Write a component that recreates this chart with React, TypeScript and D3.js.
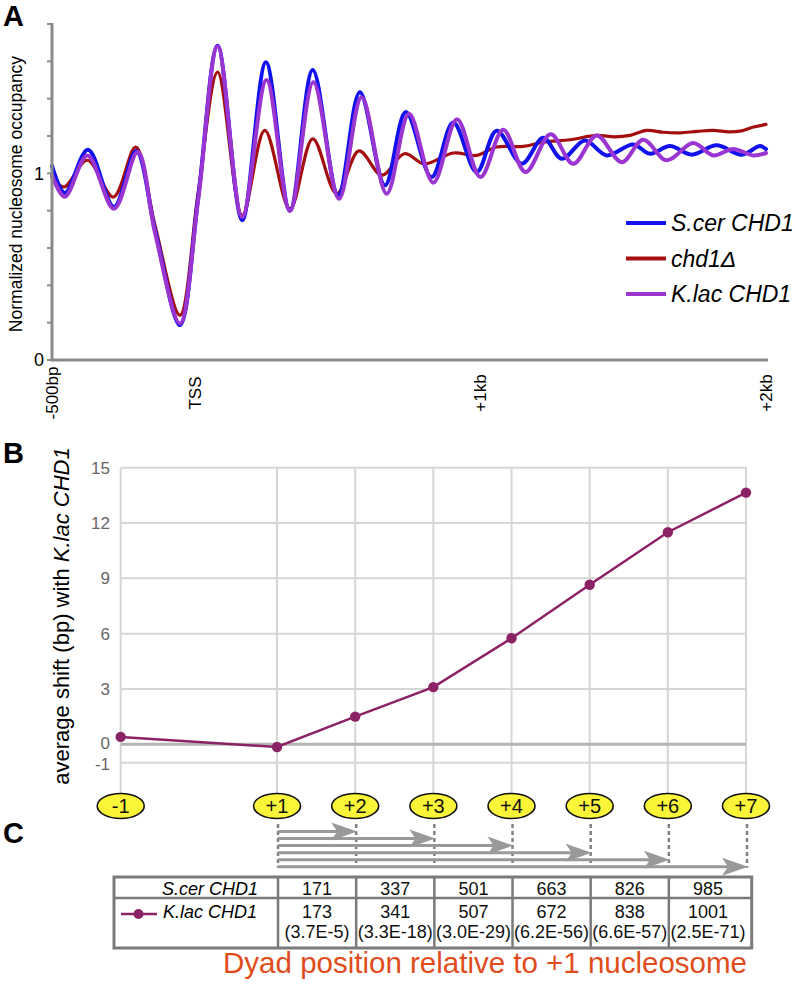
import React from 'react';
import * as d3 from 'd3';

// ---------- Panel A data (bp relative to TSS, normalized occupancy) ----------
const scerCHD1: [number, number][] = [
  [-500, 1.04], [-455, 0.895], [-374, 1.127], [-283, 0.82], [-205, 1.12], [-139, 0.695],
  [-52, 0.187], [12, 0.873], [80, 1.684], [166, 0.749], [249, 1.595], [333, 0.8],
  [413, 1.554], [502, 0.882], [578, 1.435], [666, 0.936], [739, 1.328], [829, 0.98],
  [905, 1.272], [987, 1.007], [1057, 1.228], [1145, 1.052], [1220, 1.19], [1285, 1.078],
  [1366, 1.176], [1442, 1.096], [1535, 1.155], [1594, 1.105], [1664, 1.146], [1740, 1.1],
  [1827, 1.15], [1915, 1.1], [1979, 1.146], [2000, 1.13],
];
const chd1Delta: [number, number][] = [
  [-500, 0.98], [-458, 0.927], [-376, 1.07], [-285, 0.873], [-207, 1.14], [-139, 0.72],
  [-52, 0.24], [12, 0.9], [80, 1.542], [166, 0.775], [245, 1.23], [333, 0.81],
  [413, 1.185], [497, 0.891], [575, 1.12], [655, 0.99], [734, 1.105], [804, 1.051],
  [905, 1.109], [987, 1.096], [1057, 1.141], [1150, 1.144], [1220, 1.167], [1314, 1.18],
  [1407, 1.203], [1470, 1.195], [1524, 1.203], [1582, 1.23], [1640, 1.22], [1699, 1.217],
  [1760, 1.225], [1815, 1.23], [1870, 1.222], [1909, 1.226], [1956, 1.248], [2000, 1.262],
];
const klacCHD1: [number, number][] = [
  [-500, 0.99], [-455, 0.875], [-376, 1.096], [-283, 0.81], [-200, 1.114], [-139, 0.68],
  [-52, 0.196], [12, 0.86], [80, 1.68], [166, 0.766], [251, 1.5], [333, 0.8],
  [415, 1.488], [505, 0.864], [584, 1.408], [672, 0.891], [750, 1.319], [835, 0.95],
  [918, 1.29], [1000, 0.98], [1080, 1.233], [1158, 1.007], [1246, 1.209], [1325, 1.051],
  [1407, 1.203], [1495, 1.06], [1570, 1.18], [1652, 1.07], [1745, 1.162], [1815, 1.096],
  [1885, 1.131], [1955, 1.096], [2000, 1.109],
];
const seriesNames = ['S.cer CHD1', 'chd1\u0394', 'K.lac CHD1'];
const seriesColors = ['#1212ee', '#a50e0e', '#9b35d2'];
const xTickBpA = [-500, 0, 1000, 2000];
const xTickTextA = ['-500bp', 'TSS', '+1kb', '+2kb'];
const yTickValsA = [0, 0.2, 0.4, 0.6, 0.8, 1, 1.2, 1.4, 1.6, 1.8];
const yTickLabeledA = [0, 1];

// ---------- Panel B data ----------
const nucPositions = [-1, 1, 2, 3, 4, 5, 6, 7];
const nucLabels = ['-1', '+1', '+2', '+3', '+4', '+5', '+6', '+7'];
const avgShift = [0.4, -0.15, 1.5, 3.1, 5.75, 8.65, 11.5, 13.65];
const yTicksB = [15, 12, 9, 6, 3, 0, -1];

// ---------- Panel C data ----------
const arrowTargets = [2, 3, 4, 5, 6, 7];
const scerDyad = ['171', '337', '501', '663', '826', '985'];
const klacDyad = ['173', '341', '507', '672', '838', '1001'];
const pValues = ['(3.7E-5)', '(3.3E-18)', '(3.0E-29)', '(6.2E-56)', '(6.6E-57)', '(2.5E-71)'];

const FONT = "'Liberation Sans', Arial, Helvetica, sans-serif";

export default function App() {
  // Panel A scales
  const xA = d3.scaleLinear().domain([-500, 2000]).range([52, 766]);
  const yA = d3.scaleLinear().domain([0, 1.8]).range([360, 24]);
  const lineA = d3
    .line<[number, number]>()
    .x((d) => xA(d[0]))
    .y((d) => yA(d[1]))
    .curve(d3.curveCatmullRom.alpha(0.5));
  const seriesData = [scerCHD1, chd1Delta, klacCHD1];
  const drawOrder = [1, 0, 2];
  const widths = [4, 3.2, 4];

  // Panel B scales
  const xB = d3.scaleLinear().domain([-1, 7]).range([120.7, 746]);
  const yB = d3.scaleLinear().domain([-1, 15]).range([762.7, 467.7]);
  const lineB = d3
    .line<number>()
    .x((_, i) => xB(nucPositions[i]))
    .y((d) => yB(d));

  const ellY = 806;
  const arrowY0 = 831.5;
  const arrowStep = 7.05;
  const tableTop = 877;
  const tableMid = 898;
  const tableBot = 948;
  const tableLeft = 114;
  const purpleB = '#8c2266';

  return (
    <svg
      width={796}
      height={984}
      style={{ position: 'absolute', left: 0, top: 0, background: '#fff' }}
      fontFamily={FONT}
    >
      <rect x={0} y={0} width={796} height={984} fill="#fff" />
      {/* ================= Panel A ================= */}
      <text x={3} y={26} fontSize={29} fontWeight="bold">A</text>
      {drawOrder.map((i) => (
        <path
          key={seriesNames[i]}
          d={lineA(seriesData[i]) || ''}
          fill="none"
          stroke={seriesColors[i]}
          strokeWidth={widths[i]}
          strokeLinejoin="round"
          strokeLinecap="round"
        />
      ))}
      <line x1={xA(-500)} x2={xA(-500)} y1={yA(1.8) - 1} y2={yA(0)} stroke="#8a8a8a" strokeWidth={3} />
      <line x1={xA(-500) - 1.5} x2={768} y1={yA(0)} y2={yA(0)} stroke="#8a8a8a" strokeWidth={3} />
      {yTickValsA.map((v) => (
        <line key={v} x1={xA(-500) - 5} x2={xA(-500)} y1={yA(v)} y2={yA(v)} stroke="#8a8a8a" strokeWidth={2} />
      ))}
      {yTickLabeledA.map((v) => (
        <text key={v} x={44} y={yA(v)} dy="0.36em" textAnchor="end" fontSize={18}>
          {v}
        </text>
      ))}
      {xTickBpA.map((v, i) => (
        <text
          key={v}
          transform={`translate(${xA(v) + 6},${393}) rotate(-90)`}
          textAnchor="middle"
          fontSize={17}
        >
          {xTickTextA[i]}
        </text>
      ))}
      <text transform={`translate(22,${194}) rotate(-90)`} textAnchor="middle" fontSize={17.5}>
        Normalized nucleosome occupancy
      </text>
      {seriesNames.map((n, i) => (
        <g key={n}>
          <line x1={626} x2={666} y1={223 + i * 35.5} y2={223 + i * 35.5} stroke={seriesColors[i]} strokeWidth={4} />
          <text x={671} y={223 + i * 35.5 + 8} fontSize={23} fontStyle="italic">
            {n}
          </text>
        </g>
      ))}

      {/* ================= Panel B ================= */}
      <text x={3} y={463} fontSize={29} fontWeight="bold">B</text>
      {nucPositions.map((p) => (
        <line key={p} x1={xB(p)} x2={xB(p)} y1={yB(15)} y2={ellY - 12} stroke="#d6d6d6" strokeWidth={2} />
      ))}
      {yTicksB.map((v) => (
        <line
          key={v}
          x1={xB(-1)}
          x2={xB(7)}
          y1={yB(v)}
          y2={yB(v)}
          stroke={v === 0 ? '#b5b5b5' : '#d6d6d6'}
          strokeWidth={v === 0 ? 3 : 2}
        />
      ))}
      {yTicksB.map((v) => (
        <text
          key={v}
          x={110}
          y={yB(v) + (v === 0 ? -1.5 : v === -1 ? 1.5 : 0)}
          dy="0.36em"
          textAnchor="end"
          fontSize={17}
          fill="#666"
        >
          {v}
        </text>
      ))}
      <text transform={`translate(69,${616}) rotate(-90)`} textAnchor="middle" fontSize={22}>
        average shift (bp) with <tspan fontStyle="italic">K.lac CHD1</tspan>
      </text>
      <path d={lineB(avgShift) || ''} fill="none" stroke={purpleB} strokeWidth={2.5} />
      {avgShift.map((v, i) => (
        <circle key={i} cx={xB(nucPositions[i])} cy={yB(v)} r={5.2} fill={purpleB} />
      ))}
      {nucPositions.map((p, i) => (
        <g key={p}>
          <ellipse cx={xB(p)} cy={ellY} rx={23.5} ry={12.5} fill="#fbf53a" stroke="#111" strokeWidth={1.6} />
          <text x={xB(p)} y={ellY} dy="0.36em" textAnchor="middle" fontSize={20} fill="#111">
            {nucLabels[i]}
          </text>
        </g>
      ))}

      {/* ================= Panel C ================= */}
      <text x={3} y={843} fontSize={29} fontWeight="bold">C</text>
      {[1, ...arrowTargets].map((p) => (
        <line
          key={p}
          x1={xB(p) + 1}
          x2={xB(p) + 1}
          y1={ellY + 18}
          y2={arrowY0 + arrowStep * 5 + 1}
          stroke="#808080"
          strokeWidth={2.5}
          strokeDasharray="4,3"
        />
      ))}
      {arrowTargets.map((t, i) => {
        const y = arrowY0 + i * arrowStep;
        const tip = xB(t) + 2;
        return (
          <g key={t}>
            <line x1={xB(1) + 1} x2={tip - 10} y1={y} y2={y} stroke="#999" strokeWidth={3} />
            <path
              d={`M${tip},${y} L${tip - 26},${y - 9} L${tip - 20},${y} L${tip - 26},${y + 9} Z`}
              fill="#999"
            />
          </g>
        );
      })}
      <g stroke="#7a7a7a" fill="none">
        <rect x={tableLeft} y={tableTop} width={751.7 - tableLeft} height={tableBot - tableTop} strokeWidth={3} />
        <line x1={tableLeft} x2={751.7} y1={tableMid} y2={tableMid} strokeWidth={2.5} />
        {[1, ...arrowTargets.slice(0, 5)].map((p) => (
          <line key={p} x1={xB(p) + 1} x2={xB(p) + 1} y1={tableTop} y2={tableBot} strokeWidth={2.5} />
        ))}
      </g>
      <text x={258} y={895} textAnchor="end" fontSize={18} fontStyle="italic">S.cer CHD1</text>
      <line x1={121} x2={157} y1={914} y2={914} stroke={purpleB} strokeWidth={2.5} />
      <circle cx={138.5} cy={914} r={5} fill={purpleB} />
      <text x={257} y={918} textAnchor="end" fontSize={18} fontStyle="italic">K.lac CHD1</text>
      {arrowTargets.map((t, i) => {
        const cx = (xB(t - 1 === 0 ? 1 : t - 1) + xB(t)) / 2 + 1;
        return (
          <g key={t} fontSize={18} textAnchor="middle" fill="#111">
            <text x={cx} y={895}>{scerDyad[i]}</text>
            <text x={cx} y={917.5}>{klacDyad[i]}</text>
            <text x={cx} y={938}>{pValues[i]}</text>
          </g>
        );
      })}
      <text x={747} y={973} textAnchor="end" fontSize={29.5} fill="#e04c1c">
        Dyad position relative to +1 nucleosome
      </text>
    </svg>
  );
}
